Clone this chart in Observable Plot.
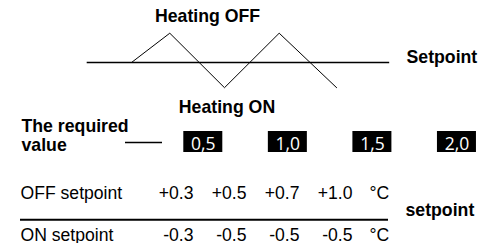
<!DOCTYPE html>
<html><head><meta charset="utf-8">
<script src="https://cdn.jsdelivr.net/npm/d3@7"></script>
<script src="https://cdn.jsdelivr.net/npm/@observablehq/plot@0.6"></script>
<style>html,body{margin:0;padding:0;background:#fff}svg{display:block}</style>
</head><body><div id="chart"></div>
<script>
// ---- data ----
const zigTime = [0, 0.7, 1.7, 2.7, 3.75];
const zigTemp = [0, 1, -0.86, 1, -0.86];
const setpointValue = 0;
const setpointSpan = [-0.81, 4.72];
const requiredValues = ["0,5", "1,0", "1,5", "2,0"];
const offSetpoint = ["+0.3", "+0.5", "+0.7", "+1.0"];
const onSetpoint = ["-0.3", "-0.5", "-0.5", "-0.5"];
const unitLabel = "°C";
const topLabels = ["Heating OFF", "Heating ON", "Setpoint"];
const requiredLabel = "The required\nvalue";
const rowLabels = ["OFF setpoint", "ON setpoint"];
const tableLabel = "setpoint";

// ---- layout ----
const W = 480, H = 243;
const X0 = 131, KX = 54.7, Y0 = 62, KY = 29.3;
const tx = p => (p - X0) / KX;
const ty = p => (Y0 - p) / KY;
const boxX = i => 202.8 + 84.55 * i;
const boxHalf = 19.5;
const colRight = i => 193 + 53 * i;
const rowBase = [198, 240];

const zig = zigTime.map((t, i) => ({t, v: zigTemp[i]}));
const bold = {fontWeight: "bold", fontSize: 17.7, lineAnchor: "bottom", fill: "#000"};
const reg = {fontSize: 17.6, lineAnchor: "bottom", fill: "#000"};

const chart = Plot.plot({
  width: W, height: H, margin: 0,
  x: {domain: [tx(0), tx(W)], axis: null},
  y: {domain: [ty(H), ty(0)], axis: null},
  style: {fontFamily: "'Liberation Sans', Arial, sans-serif", background: "#fff", color: "#000"},
  marks: [
    Plot.ruleY([setpointValue], {x1: setpointSpan[0], x2: setpointSpan[1], stroke: "#000", strokeWidth: 1.6}),
    Plot.line(zig, {x: "t", y: "v", stroke: "#000", strokeWidth: 1}),
    Plot.text([topLabels[0]], {x: tx(207), y: ty(21.7), textAnchor: "middle", ...bold}),
    Plot.text([topLabels[2]], {x: tx(406), y: ty(62), textAnchor: "start", ...bold}),
    Plot.text([topLabels[1]], {x: tx(226.5), y: ty(112.3), textAnchor: "middle", ...bold}),
    Plot.text([requiredLabel], {x: tx(21), y: ty(150), textAnchor: "start", lineHeight: 1.04, ...bold}),
    Plot.ruleY([ty(142)], {x1: tx(125), x2: tx(162), stroke: "#000", strokeWidth: 1.5}),
    Plot.rect(requiredValues, {x1: (d, i) => tx(boxX(i) - boxHalf), x2: (d, i) => tx(boxX(i) + boxHalf), y1: ty(131), y2: ty(152), fill: "#000"}),
    Plot.text(requiredValues, {x: (d, i) => tx(boxX(i)), y: ty(149), textAnchor: "middle", lineAnchor: "bottom", fill: "#fff", fontSize: 17.5, fontFamily: "'Open Sans', sans-serif"}),
    Plot.text(rowLabels, {x: tx(20), y: (d, i) => ty(rowBase[i]), textAnchor: "start", ...reg}),
    Plot.text(offSetpoint, {x: (d, i) => tx(colRight(i)), y: ty(rowBase[0]), textAnchor: "end", ...reg}),
    Plot.text(onSetpoint, {x: (d, i) => tx(colRight(i)), y: ty(rowBase[1]), textAnchor: "end", ...reg}),
    Plot.text([unitLabel, unitLabel], {x: tx(369), y: (d, i) => ty(rowBase[i]), textAnchor: "start", ...reg}),
    Plot.ruleY([ty(219.3)], {x1: tx(20), x2: tx(388), stroke: "#000", strokeWidth: 2}),
    Plot.text([tableLabel], {x: tx(405), y: ty(215), textAnchor: "start", ...bold})
  ]
});
document.getElementById("chart").appendChild(chart);
</script>
</body></html>
